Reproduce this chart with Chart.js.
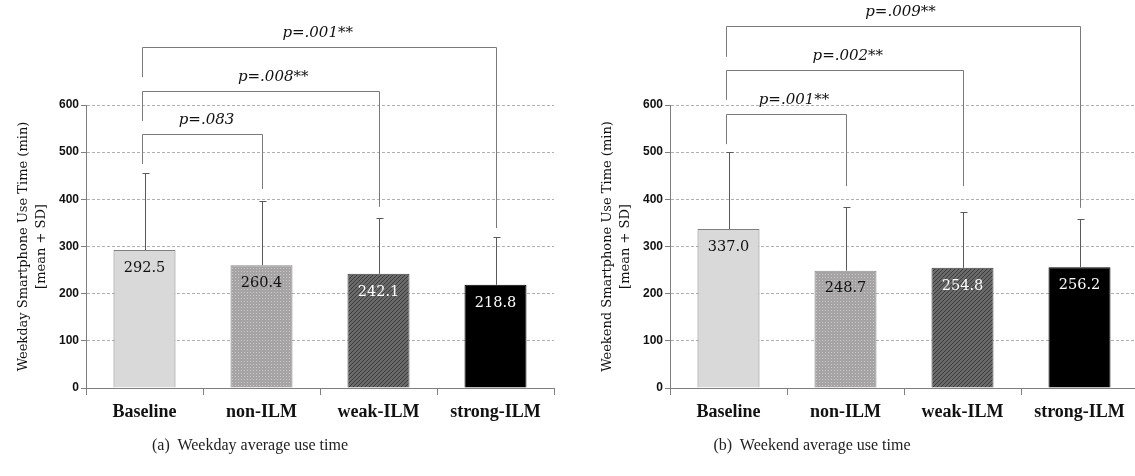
<!DOCTYPE html>
<html>
<head>
<meta charset="utf-8">
<script src="https://cdn.jsdelivr.net/npm/chart.js@4.4.1/dist/chart.umd.min.js"></script>
<style>
  html, body { margin: 0; padding: 0; background: #fff; width: 1135px; height: 476px; overflow: hidden; }
  .panel { position: absolute; top: 0; height: 476px; }
  #panelA { left: 0; width: 567px; }
  #panelB { left: 584px; width: 557px; }
  .caption { position: absolute; top: 436px; font-family: "Liberation Serif", serif; font-size: 16px; color: #222; white-space: pre; transform: translateX(-50%); }
</style>
</head>
<body>
<div class="panel" id="panelA"><canvas id="chartA" width="567" height="476"></canvas></div>
<div class="panel" id="panelB"><canvas id="chartB" width="557" height="476"></canvas></div>
<div class="caption" style="left:250px">(a)  Weekday average use time</div>
<div class="caption" style="left:812px">(b)  Weekend average use time</div>

<script>
// Groups compared in both panels
const categories = ['Baseline', 'non-ILM', 'weak-ILM', 'strong-ILM'];

// Weekday use time (min): mean and standard deviation per group
const weekdayMean = [292.5, 260.4, 242.1, 218.8];
const weekdaySD   = [163, 137, 118, 102];

// Weekend use time (min): mean and standard deviation per group
const weekendMean = [337.0, 248.7, 254.8, 256.2];
const weekendSD   = [163, 135, 118, 102];

// Pairwise tests against Baseline
const weekdayP = ['p=.083', 'p=.008**', 'p=.001**'];
const weekendP = ['p=.001**', 'p=.002**', 'p=.009**'];
const comparedGroup = [1, 2, 3];

// Value axis ticks
const yTicks = [0, 100, 200, 300, 400, 500, 600];

// Bracket geometry in value-axis units (level of the bar, lower ends of the legs)
// and label placement in category units.
const weekdayBracketLayout = [
  { level: 538, leftEnd: 475, rightEnd: 422, labelX: 0.53 },
  { level: 630, leftEnd: 566, rightEnd: 384, labelX: 1.10 },
  { level: 723, leftEnd: 659, rightEnd: 339, labelX: 1.48 }
];
const weekendBracketLayout = [
  { level: 581, leftEnd: 517, rightEnd: 428, labelX: 0.56 },
  { level: 674, leftEnd: 611, rightEnd: 428, labelX: 1.02 },
  { level: 767, leftEnd: 702, rightEnd: 382, labelX: 1.47 }
];

function makePattern(size, base, dark, isDark) {
  const c = document.createElement('canvas');
  c.width = size; c.height = size;
  const g = c.getContext('2d');
  g.fillStyle = base;
  g.fillRect(0, 0, size, size);
  g.fillStyle = dark;
  for (let x = 0; x < size; x++) {
    for (let y = 0; y < size; y++) {
      if (isDark(x, y)) g.fillRect(x, y, 1, 1);
    }
  }
  return g.createPattern(c, 'repeat');
}

// fine light dots on mid gray
const dotted = makePattern(3, '#a6a4a4', '#c8c6c6', (x, y) => x === 1 && y === 1);
// diagonal hatching on dark gray
const hatched = makePattern(4, '#6a6a6a', '#3a3a3a', (x, y) => (x + y) % 4 === 3);

const barFill   = ['#d9d9d9', dotted, hatched, '#000000'];
const barBorder = ['#7f7f7f', '#8a8a8a', '#404040', '#000000'];
const valueColor = ['#111', '#111', '#fff', '#fff'];

// Error bars, value labels and significance brackets
const overlay = {
  id: 'overlay',
  afterDatasetsDraw(chart, args, opts) {
    const { ctx } = chart;
    const xs = chart.scales.x, ys = chart.scales.y;
    const meta = chart.getDatasetMeta(0);
    const means = chart.data.datasets[0].data;

    ctx.save();
    // error bars (mean + SD)
    ctx.strokeStyle = '#5a5a5a';
    ctx.lineWidth = 1;
    meta.data.forEach((bar, i) => {
      const x = Math.round(bar.x) + 0.5;
      const yTop = Math.round(ys.getPixelForValue(means[i] + opts.sd[i])) + 0.5;
      const yBase = bar.y;
      ctx.beginPath();
      ctx.moveTo(x, yBase);
      ctx.lineTo(x, yTop);
      ctx.moveTo(x - 3, yTop);
      ctx.lineTo(x + 4, yTop);
      ctx.stroke();
    });

    // value labels inside the bars
    ctx.font = '14.5px "DejaVu Serif"';
    ctx.textAlign = 'center';
    ctx.textBaseline = 'middle';
    meta.data.forEach((bar, i) => {
      ctx.fillStyle = valueColor[i];
      ctx.fillText(means[i].toFixed(1), bar.x, bar.y + 18);
    });

    // significance brackets
    ctx.strokeStyle = '#7a7a7a';
    ctx.lineWidth = 1;
    ctx.font = 'italic 15px "DejaVu Serif"';
    ctx.fillStyle = '#111';
    opts.layout.forEach((b, k) => {
      const xL = Math.round(xs.getPixelForValue(0)) - 2.5;
      const xR = Math.round(xs.getPixelForValue(opts.groups[k])) + 0.5;
      const yTop = Math.round(ys.getPixelForValue(b.level)) + 0.5;
      ctx.beginPath();
      ctx.moveTo(xL, ys.getPixelForValue(b.leftEnd));
      ctx.lineTo(xL, yTop);
      ctx.lineTo(xR, yTop);
      ctx.lineTo(xR, ys.getPixelForValue(b.rightEnd));
      ctx.stroke();
      ctx.fillText(opts.labels[k], xs.getPixelForValue(b.labelX), yTop - 14);
    });
    ctx.restore();
  }
};

function makeChart(canvasId, means, sd, pLabels, layout, axisTitle, rightPad) {
  return new Chart(document.getElementById(canvasId), {
    type: 'bar',
    data: {
      labels: categories,
      datasets: [{
        data: means,
        backgroundColor: barFill,
        borderColor: barBorder,
        borderWidth: 1,
        borderSkipped: 'bottom',
        barPercentage: 0.53,
        categoryPercentage: 1
      }]
    },
    options: {
      responsive: false,
      animation: false,
      events: [],
      layout: { padding: { top: 105, left: 0, right: rightPad, bottom: 0 } },
      plugins: {
        legend: { display: false },
        tooltip: { enabled: false },
        overlay: { sd: sd, labels: pLabels, groups: comparedGroup, layout: layout }
      },
      scales: {
        x: {
          grid: { offset: true, drawOnChartArea: false, tickLength: 7, color: '#7f7f7f' },
          border: { color: '#7f7f7f' },
          ticks: {
            font: { family: '"Liberation Serif"', weight: 'bold', size: 18 },
            color: '#111',
            padding: 7,
            maxRotation: 0,
            autoSkip: false
          },
          afterFit(scale) { scale.height = 88; }
        },
        y: {
          min: yTicks[0],
          max: yTicks[yTicks.length - 1],
          afterBuildTicks(scale) { scale.ticks = yTicks.map(v => ({ value: v })); },
          ticks: {
            font: { family: '"Liberation Sans"', weight: 'bold', size: 12 },
            color: '#111',
            padding: 2
          },
          grid: { color: '#b0b0b0', tickLength: 5, tickColor: '#7f7f7f' },
          border: { color: '#7f7f7f', dash: [3, 2] },
          title: {
            display: true,
            text: [axisTitle, '[mean + SD]'],
            font: { family: '"DejaVu Serif"', size: 13, lineHeight: 1.35 },
            color: '#111',
            padding: { top: 15, bottom: 0 }
          },
          afterFit(scale) { scale.width = 86; }
        }
      }
    },
    plugins: [overlay]
  });
}

makeChart('chartA', weekdayMean, weekdaySD, weekdayP, weekdayBracketLayout,
  'Weekday Smartphone Use Time (min)', 13);
makeChart('chartB', weekendMean, weekendSD, weekendP, weekendBracketLayout,
  'Weekend Smartphone Use Time (min)', 3);
</script>
</body>
</html>
